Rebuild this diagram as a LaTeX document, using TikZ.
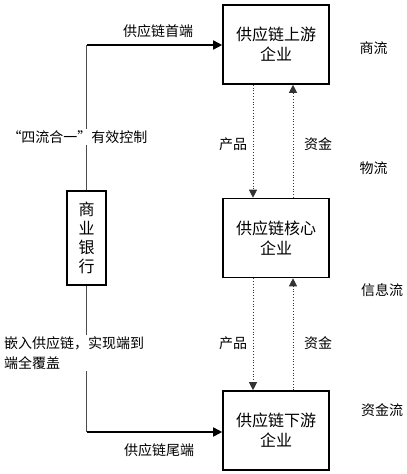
\documentclass[tikz,border=0pt]{standalone}
\usepackage{fontspec}
\setmainfont{Noto Sans CJK SC}
\usetikzlibrary{arrows.meta}
\begin{document}
\begin{tikzpicture}[x=1pt,y=-1pt,
  firm/.style={draw=black,line width=1.6pt,minimum width=106pt,minimum height=79pt,align=center,inner sep=0pt,font=\fontsize{16}{20}\selectfont},
  bankbox/.style={draw=black,line width=1.4pt,minimum width=39pt,minimum height=94pt,align=center,inner sep=0pt,font=\fontsize{16}{19}\selectfont},
  lab/.style={font=\fontsize{14}{20}\selectfont,inner sep=1pt},
  thinline/.style={draw=black!70,line width=0.8pt},
  mainarrow/.style={draw=black,line width=1.6pt,-{Triangle[width=9pt,length=9pt]}},
  flow/.style={draw=black!80,line width=0.8pt,dotted,-{Triangle[width=8pt,length=8pt]}}]
\useasboundingbox (0,0) rectangle (407,474);
\node[firm] (up) at (276,44.5) {供应链上游\\企业};
\node[firm] (core) at (276,238) {供应链核心\\企业};
\node[firm] (down) at (276,430.5) {供应链下游\\企业};
\node[bankbox] (bank) at (86.5,238) {商\\业\\银\\行};
\coordinate (c1) at (86.5,45);
\coordinate (c2) at (86.5,432);
\draw[thinline] (bank.north) -- (c1);
\draw[thinline] (bank.south) -- (c2);
\draw[mainarrow] (c1) -- (c1 -| up.west);
\draw[mainarrow] (c2) -- (c2 -| down.west);
\draw[flow] ([xshift=-23pt]up.south) -- ([xshift=-23pt]core.north);
\draw[flow] ([xshift=17pt]core.north) -- ([xshift=17pt]up.south);
\draw[flow] ([xshift=-23pt]core.south) -- ([xshift=-23pt]down.north);
\draw[flow] ([xshift=17pt]down.north) -- ([xshift=17pt]core.south);
\node[lab,fill=white] (ctl) at (77.5,137) {“四流合一”有效控制};
\node[lab,fill=white,anchor=west,align=left] (embed) at (3,353) {嵌入供应链，实现端到\\端全覆盖};
\node[lab] (head) at (158,31) {供应链首端};
\node[lab] (tail) at (159,450) {供应链尾端};
\node[lab] (p1) at (233,144) {产品};
\node[lab] (m1) at (318,144) {资金};
\node[lab] (p2) at (233,343) {产品};
\node[lab] (m2) at (318,343) {资金};
\node[lab] (f1) at (373.5,48) {商流};
\node[lab] (f2) at (373.5,168) {物流};
\node[lab] (f3) at (382,290) {信息流};
\node[lab] (f4) at (382,410) {资金流};
\end{tikzpicture}
\end{document}
